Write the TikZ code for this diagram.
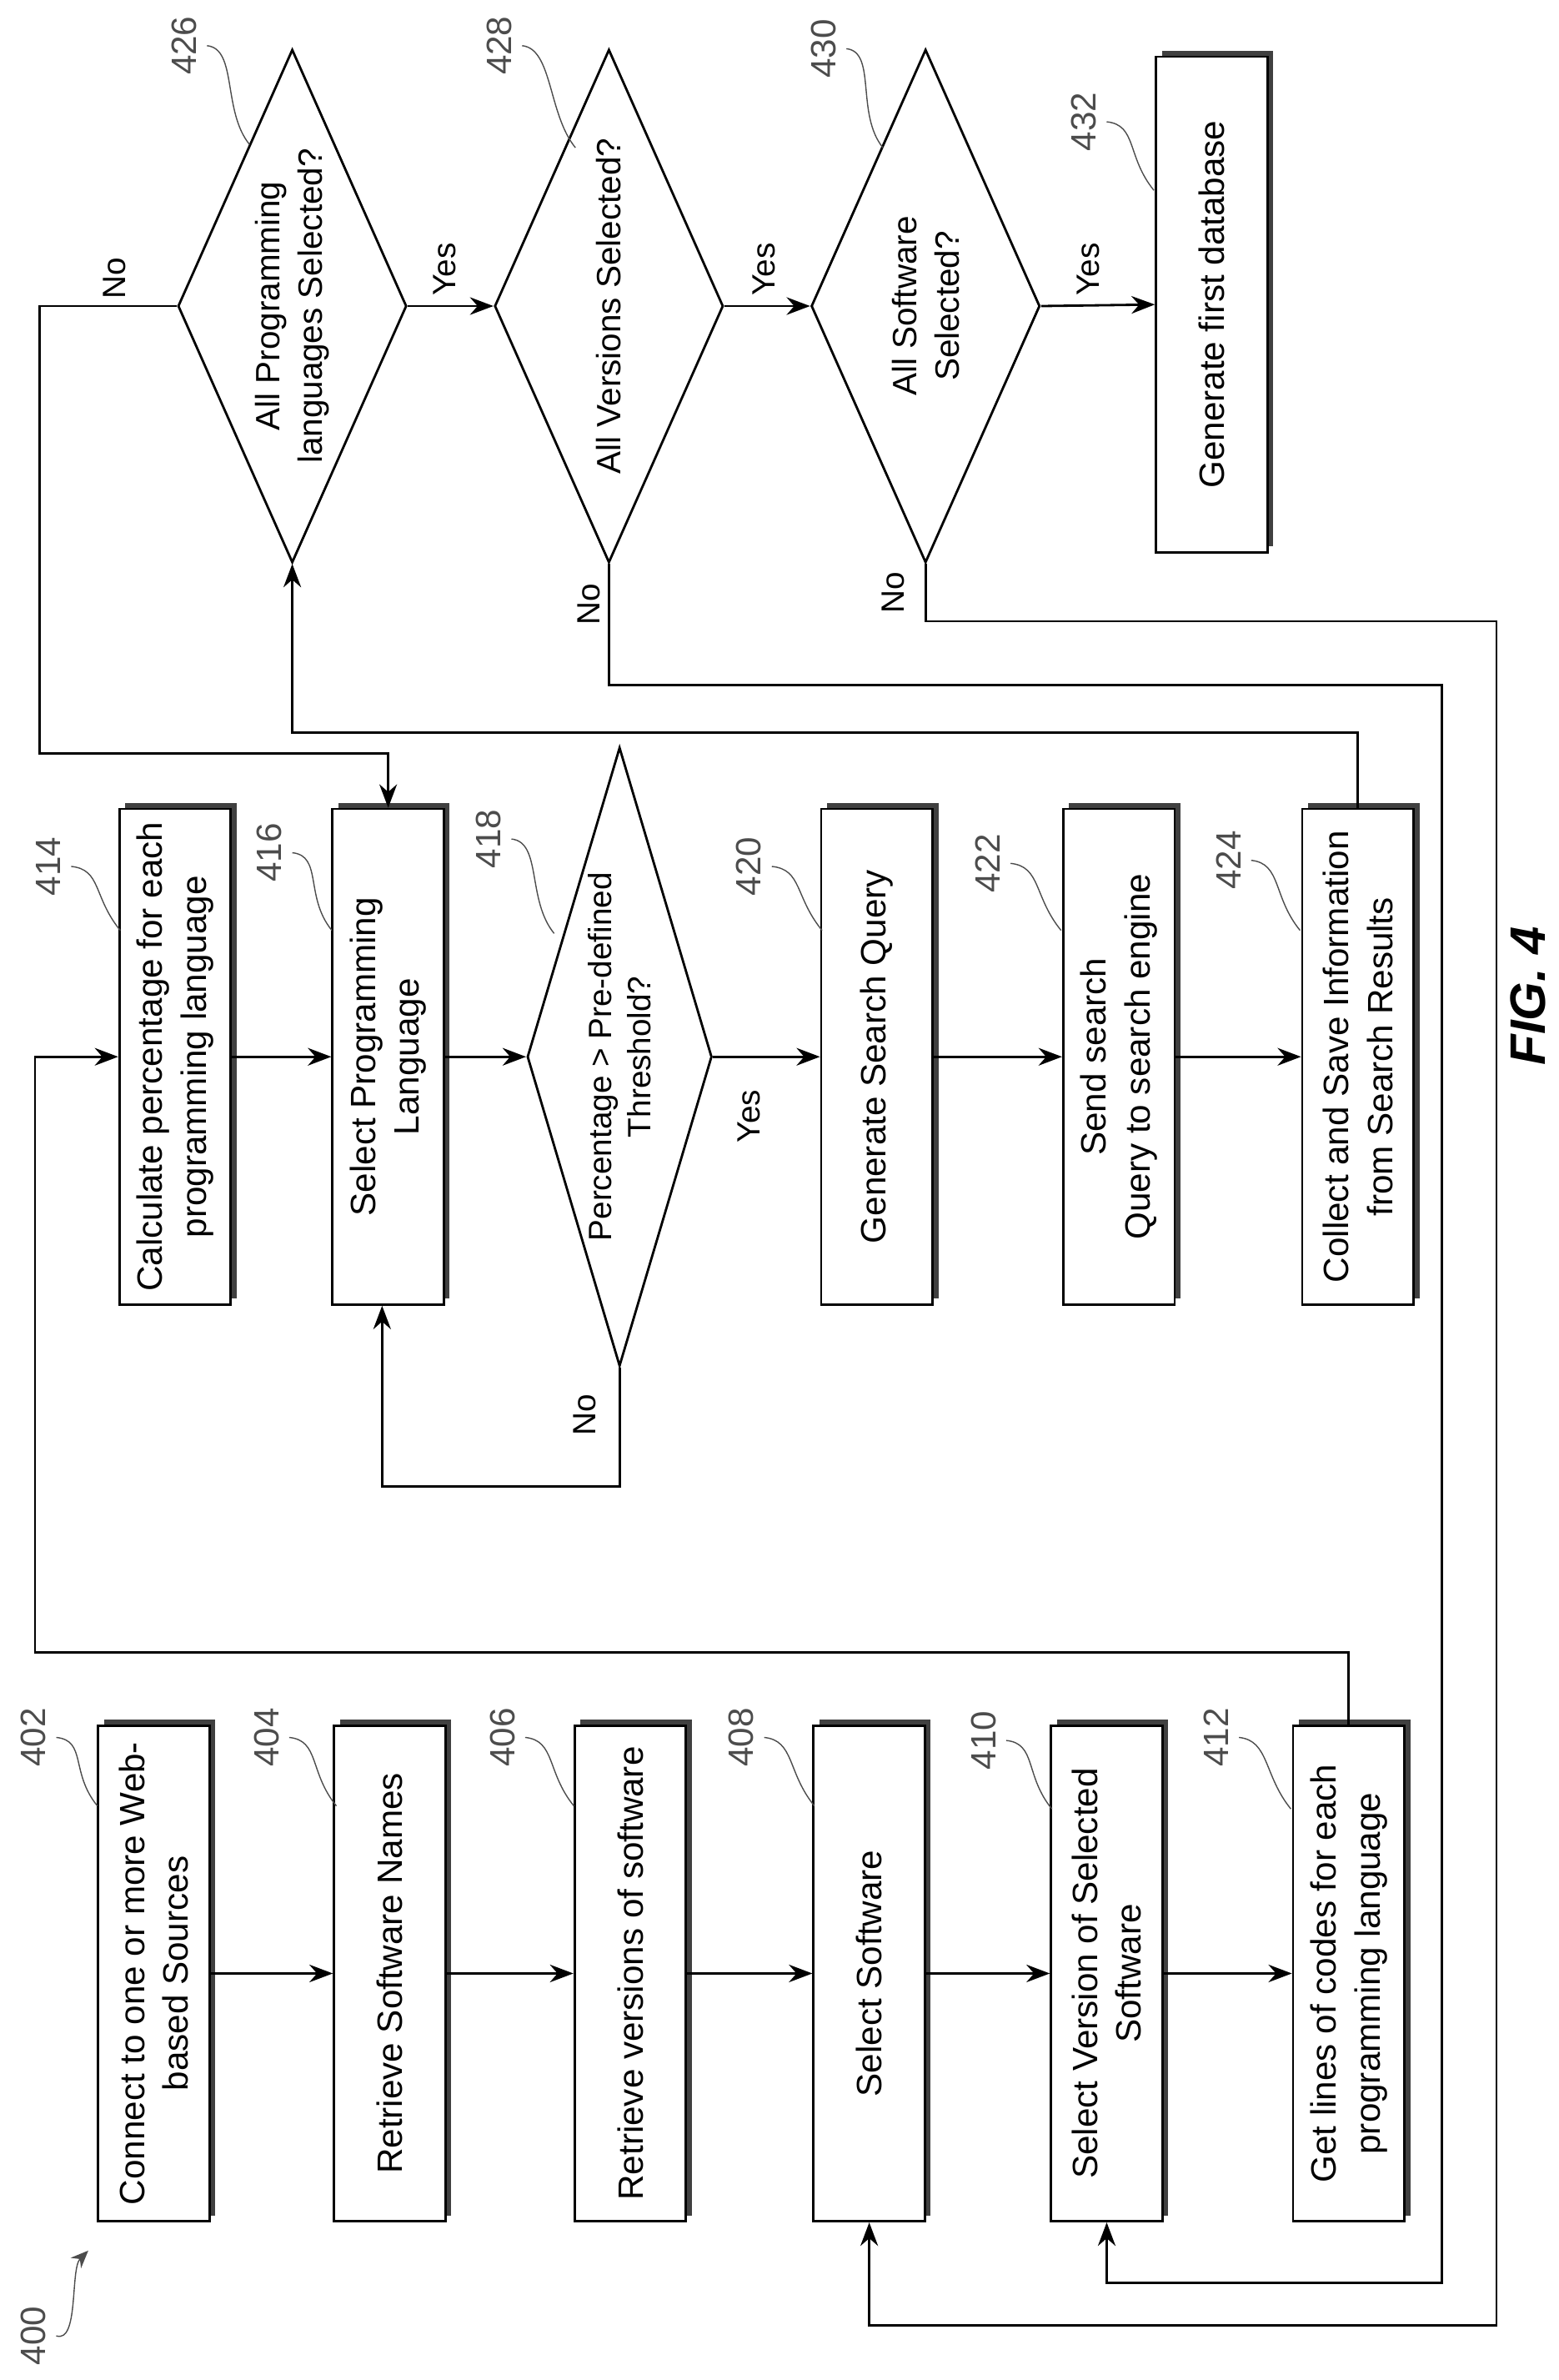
\documentclass[tikz,border=0pt]{standalone}
\usepackage{fontspec}
\setmainfont{Liberation Sans}
\usetikzlibrary{arrows.meta,shapes.geometric,shadows}

\tikzset{
  box/.style={draw, thick, fill=white, rotate=90, minimum width=169pt, minimum height=38pt,
    align=center, inner sep=2pt, font=\fontsize{12}{15}\selectfont,
    drop shadow={shadow xshift=2pt, shadow yshift=2pt, opacity=1, fill=black!75}},
  dia/.style={draw, thick, fill=white, diamond, rotate=90, inner sep=0pt},
  txt/.style={rotate=90, align=center, font=\fontsize{11.5}{14.5}\selectfont},
  lbl/.style={rotate=90, font=\fontsize{11}{13}\selectfont},
  refn/.style={rotate=90, font=\fontsize{12}{14}\selectfont, text=black!70},
  wig/.style={thin, black!70},
  arr/.style={thick, -{Stealth[length=8pt,width=6pt]}}
}

\begin{document}
\begin{tikzpicture}[x=0.01825cm, y=-0.01825cm]
  \useasboundingbox (0,0) rectangle (1024,1563);

  % left column
  \node[box](n402) at (101,1296){Connect to one or more Web-\\based Sources};
  \node[box](n404) at (256,1296){Retrieve Software Names};
  \node[box](n406) at (414,1296){Retrieve versions of software};
  \node[box](n408) at (571,1296){Select Software};
  \node[box](n410) at (727,1296){Select Version of Selected\\Software};
  \node[box](n412) at (886,1296){Get lines of codes for each\\programming language};

  % middle column
  \node[box](n414) at (115,694){Calculate percentage for each\\programming language};
  \node[box](n416) at (255,694){Select Programming\\Language};
  \node[dia, minimum width=211pt, minimum height=63pt](d418) at (407,694){};
  \node[txt, font=\fontsize{11}{13.5}\selectfont] at (d418){Percentage > Pre-defined\\Threshold?};
  \node[box](n420) at (576,694){Generate Search Query};
  \node[box](n422) at (735,694){Send search\\Query to search engine};
  \node[box](n424) at (892,694){Collect and Save Information\\from Search Results};

  % right column
  \node[dia, minimum width=175pt, minimum height=78pt](d426) at (192,201){};
  \node[txt] at (d426){All Programming\\languages Selected?};
  \node[dia, minimum width=175pt, minimum height=78pt](d428) at (400,201){};
  \node[txt] at (d428){All Versions Selected?};
  \node[dia, minimum width=175pt, minimum height=78pt](d430) at (608,201){};
  \node[txt] at (d430){All Software\\Selected?};
  \node[box](n432) at (796,200){Generate first database};

  % turning points
  \coordinate (k1) at (23,1085);
  \coordinate (k2) at (251,976);
  \coordinate (k3) at (0,481);
  \coordinate (k4) at (26,495);
  \coordinate (k5) at (947,450);
  \coordinate (k6) at (947,1499);
  \coordinate (k7) at (983,408);
  \coordinate (k8) at (983,1527);

  \draw[arr] (n402.south) -- (n404.north);
  \draw[arr] (n404.south) -- (n406.north);
  \draw[arr] (n406.south) -- (n408.north);
  \draw[arr] (n408.south) -- (n410.north);
  \draw[arr] (n410.south) -- (n412.north);
  \draw[arr] (n412.east) |- (k1) |- (n414.north);
  \draw[arr] (n414.south) -- (n416.north);
  \draw[arr] (n416.south) -- (d418.north);
  \draw[arr] (d418.south) -- (n420.north);
  \draw[arr] (d418.west) |- (k2) -- (n416.west -| k2);
  \draw[arr] (n420.south) -- (n422.north);
  \draw[arr] (n422.south) -- (n424.north);
  \draw[arr] (n424.east) -- (n424.east |- k3) -| (d426.west);
  \draw[arr] (d426.north) -| (k4) -| (n416.east);
  \draw[arr] (d426.south) -- (d428.north);
  \draw[arr] (d428.south) -- (d430.north);
  \draw[arr] (d430.south) -- (n432.north);
  \draw[arr] (d428.west) |- (k5) -- (k6) -| (n410.west);
  \draw[arr] (d430.west) |- (k7) -- (k8) -| (n408.west);

  \node[lbl] at (75,183){No};
  \node[lbl] at (292,177){Yes};
  \node[lbl] at (502,177){Yes};
  \node[lbl] at (715,177){Yes};
  \node[lbl] at (492,733){Yes};
  \node[lbl] at (384,929){No};
  \node[lbl] at (387,397){No};
  \node[lbl] at (587,389){No};

  % reference numerals
  \node[refn](l400) at (22,1534){400};
  \coordinate (c400) at (58,1478);
  \draw[wig, -{Stealth[length=6pt,width=5pt]}] (l400.south) .. controls +(15,5) and +(-12,12) .. (c400);
  \foreach \num/\lx/\ly/\ex/\ey in {402/22/1141/64/1186, 404/175/1141/221/1186, 406/330/1141/377/1186,
      408/487/1141/535/1186, 410/646/1143/691/1188, 412/799/1141/848/1188,
      414/32/569/79/611, 416/177/560/218/611, 418/321/551/364/613, 420/492/569/540/611,
      422/649/567/697/611, 424/807/565/854/611,
      426/121/30/164/95, 428/328/30/378/97, 430/541/32/580/97, 432/712/80/758/125}{
    \node[refn](l\num) at (\lx,\ly){\num};
    \coordinate (c\num) at (\ex,\ey);
    \draw[wig] (l\num.south) .. controls +(20,2) and +(-18,-22) .. (c\num);
  }

  \node[rotate=90, font=\fontsize{17}{20}\selectfont\bfseries\itshape](fig) at (1004,654){FIG. 4};
\end{tikzpicture}
\end{document}
